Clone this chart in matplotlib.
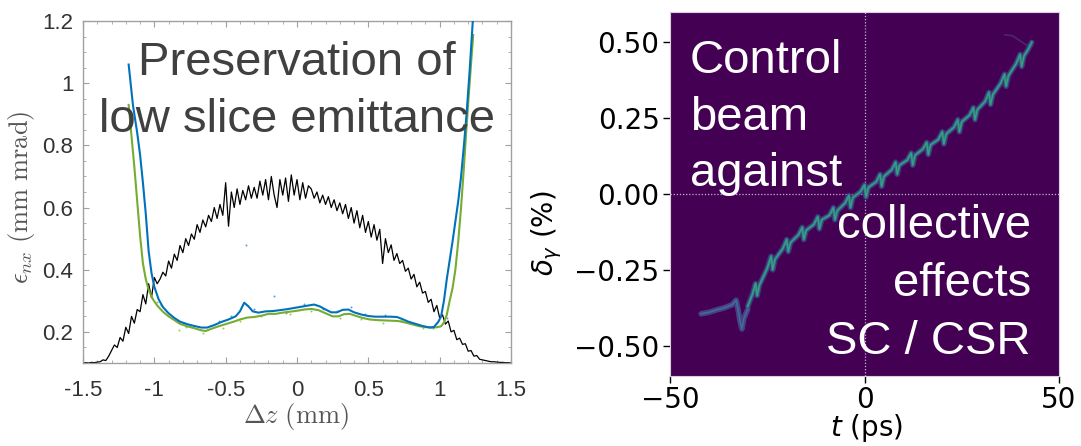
import numpy as np
import matplotlib
matplotlib.use("Agg")
import matplotlib.pyplot as plt
from matplotlib.ticker import MultipleLocator, FuncFormatter

# ---------------- data: left panel ----------------
# current profile (black), sampled every 0.02 mm from -1.5 to 1.5
profile_z_start, profile_z_step = -1.5, 0.02
profile_y = [
    0.100, 0.101, 0.100, 0.102, 0.101, 0.103, 0.104, 0.110, 0.108, 0.122,
    0.140, 0.158, 0.150, 0.182, 0.170, 0.215, 0.195, 0.250, 0.228, 0.272,
    0.265, 0.320, 0.290, 0.355, 0.310, 0.375, 0.355, 0.370, 0.392, 0.380,
    0.428, 0.405, 0.450, 0.430, 0.478, 0.455, 0.500, 0.478, 0.515, 0.498,
    0.545, 0.520, 0.560, 0.538, 0.575, 0.555, 0.600, 0.565, 0.610, 0.575,
    0.680, 0.540, 0.650, 0.600, 0.660, 0.610, 0.655, 0.625, 0.670, 0.630,
    0.665, 0.630, 0.685, 0.640, 0.690, 0.625, 0.700, 0.640, 0.600, 0.690,
    0.640, 0.695, 0.620, 0.705, 0.640, 0.690, 0.625, 0.680, 0.630, 0.670,
    0.660, 0.630, 0.650, 0.615, 0.640, 0.610, 0.635, 0.600, 0.625, 0.590,
    0.615, 0.580, 0.610, 0.565, 0.600, 0.550, 0.590, 0.535, 0.575, 0.520,
    0.555, 0.505, 0.545, 0.495, 0.530, 0.420, 0.500, 0.455, 0.480, 0.430,
    0.452, 0.420, 0.430, 0.395, 0.405, 0.370, 0.385, 0.345, 0.360, 0.325,
    0.330, 0.295, 0.305, 0.265, 0.285, 0.245, 0.255, 0.225, 0.235, 0.200,
    0.205, 0.175, 0.180, 0.160, 0.162, 0.138, 0.140, 0.122, 0.124, 0.112,
    0.110, 0.108, 0.106, 0.104, 0.104, 0.103, 0.102, 0.102, 0.101, 0.101,
    0.100,
]

blue_z = [-1.18, -1.15, -1.12, -1.10, -1.08, -1.06, -1.04, -1.02, -1.00, -0.97,
          -0.94, -0.90, -0.86, -0.82, -0.77, -0.72, -0.67, -0.63, -0.58, -0.53,
          -0.48, -0.43, -0.40, -0.37, -0.34, -0.31, -0.27, -0.22, -0.17, -0.12,
          -0.07, -0.02, 0.03, 0.08, 0.12, 0.16, 0.20, 0.24, 0.28, 0.32,
          0.36, 0.40, 0.45, 0.50, 0.55, 0.60, 0.65, 0.70, 0.74, 0.78,
          0.83, 0.88, 0.93, 0.96, 0.99, 1.01, 1.03, 1.05, 1.07, 1.09,
          1.11, 1.13, 1.15, 1.17, 1.19, 1.21, 1.235]
blue_e = [1.06, 0.93, 0.84, 0.77, 0.68, 0.58, 0.46, 0.39, 0.345, 0.305,
          0.280, 0.260, 0.245, 0.233, 0.225, 0.219, 0.214, 0.214, 0.222, 0.232,
          0.240, 0.250, 0.266, 0.294, 0.282, 0.266, 0.262, 0.266, 0.267, 0.270,
          0.273, 0.277, 0.281, 0.285, 0.288, 0.282, 0.272, 0.263, 0.263, 0.271,
          0.272, 0.263, 0.256, 0.251, 0.249, 0.249, 0.249, 0.248, 0.241, 0.233,
          0.226, 0.219, 0.214, 0.216, 0.232, 0.250, 0.300, 0.370, 0.430, 0.490,
          0.555, 0.620, 0.700, 0.800, 0.910, 1.040, 1.220]

green_z = [-1.18, -1.16, -1.14, -1.12, -1.10, -1.08, -1.06, -1.04, -1.01, -0.98,
           -0.94, -0.90, -0.86, -0.82, -0.77, -0.72, -0.67, -0.64, -0.60, -0.55,
           -0.50, -0.45, -0.40, -0.35, -0.30, -0.25, -0.20, -0.15, -0.10, -0.05,
           0.00, 0.05, 0.10, 0.15, 0.20, 0.25, 0.29, 0.33, 0.37, 0.41,
           0.46, 0.51, 0.56, 0.61, 0.66, 0.71, 0.76, 0.81, 0.86, 0.91,
           0.95, 0.98, 1.01, 1.03, 1.05, 1.07, 1.09, 1.11, 1.13, 1.15,
           1.17, 1.19, 1.21, 1.235]
green_e = [0.93, 0.83, 0.73, 0.62, 0.51, 0.42, 0.37, 0.335, 0.305, 0.285,
           0.265, 0.250, 0.238, 0.226, 0.218, 0.212, 0.205, 0.203, 0.210, 0.218,
           0.225, 0.232, 0.240, 0.246, 0.248, 0.252, 0.258, 0.258, 0.262, 0.265,
           0.268, 0.272, 0.274, 0.270, 0.260, 0.250, 0.250, 0.257, 0.258, 0.252,
           0.245, 0.240, 0.238, 0.237, 0.236, 0.235, 0.230, 0.224, 0.218, 0.215,
           0.214, 0.215, 0.218, 0.230, 0.255, 0.300, 0.340, 0.400, 0.490, 0.600,
           0.730, 0.870, 1.000, 1.155]

blue_dots_z = [-0.95, -0.80, -0.55, -0.46, -0.36, -0.30, -0.16, -0.08, 0.05, 0.18,
               0.28, 0.38, 0.48, 0.62, 0.80, 0.95, 1.05]
blue_dots_e = [0.285, 0.225, 0.235, 0.250, 0.480, 0.275, 0.315, 0.262, 0.290, 0.275,
               0.268, 0.280, 0.258, 0.255, 0.228, 0.212, 0.245]
green_dots_z = [-0.98, -0.83, -0.78, -0.66, -0.52, -0.40, -0.25, -0.05, 0.10, 0.30,
                0.45, 0.60, 0.73, 0.88, 1.02]
green_dots_e = [0.295, 0.205, 0.215, 0.198, 0.212, 0.236, 0.252, 0.258, 0.268, 0.244,
                0.243, 0.230, 0.238, 0.212, 0.230]

# ---------------- data: right panel ----------------
tail_t = [-42, -40, -38, -36, -34, -33, -32.5, -32, -31.5, -31, -30]
tail_d = [-0.395, -0.390, -0.382, -0.375, -0.365, -0.350, -0.380, -0.420, -0.445, -0.410, -0.380]

streak_t = [-30, -28.8, -28, -27.6, -27, -25, -24, -23.6, -23, -21, -20, -19.6, -19,
            -17, -16, -15.6, -15, -13, -12, -11.6, -11, -9, -8, -7.6, -7,
            -5, -4, -3.6, -3, -1, 0, 0.4, 1, 3, 4, 4.4, 5, 7, 8, 8.4, 9,
            11, 12, 12.4, 13, 15, 16, 16.4, 17, 19, 20, 20.4, 21, 23, 24, 24.4, 25,
            27, 28, 28.4, 29, 31, 32, 32.4, 33, 35, 36, 36.4, 37, 39, 40, 40.4, 41,
            42, 43]
streak_d = [-0.370, -0.330, -0.295, -0.335, -0.300, -0.245, -0.205, -0.250, -0.215,
            -0.180, -0.150, -0.190, -0.160, -0.135, -0.110, -0.150, -0.120,
            -0.100, -0.075, -0.115, -0.085, -0.070, -0.045, -0.085, -0.055,
            -0.030, -0.005, -0.045, -0.012, 0.008, 0.030, -0.010, 0.022,
            0.040, 0.065, 0.025, 0.058, 0.080, 0.105, 0.065, 0.095,
            0.112, 0.135, 0.095, 0.128, 0.148, 0.170, 0.130, 0.162,
            0.180, 0.205, 0.165, 0.198, 0.220, 0.245, 0.205, 0.238,
            0.260, 0.285, 0.245, 0.278, 0.305, 0.335, 0.295, 0.328,
            0.365, 0.395, 0.355, 0.390, 0.430, 0.460, 0.420, 0.455,
            0.475, 0.500]

halo_t = [36, 38, 40, 41.5, 43]
halo_d = [0.525, 0.522, 0.505, 0.492, 0.488]

# ---------------- figure ----------------
W, H = 1081, 446
fig = plt.figure(figsize=(W / 100, H / 100), dpi=100)

def fx(px):
    return px / W

def fy(py):
    return 1 - py / H

# left axes
axL = fig.add_axes([fx(83), fy(363), fx(511) - fx(83), fy(21) - fy(363)])
z = profile_z_start + profile_z_step * np.arange(len(profile_y))
axL.plot(z, profile_y, color="black", lw=0.9, zorder=2)
axL.scatter(blue_dots_z, blue_dots_e, s=2, color="#5aa0d8", zorder=3, linewidths=0)
axL.scatter(green_dots_z, green_dots_e, s=2, color="#9cc85a", zorder=3, linewidths=0)
axL.plot(green_z, green_e, color="#77AC30", lw=1.5, zorder=4)
axL.plot(blue_z, blue_e, color="#0072BD", lw=1.5, zorder=5)
axL.set_xlim(-1.5, 1.5)
axL.set_ylim(0.1, 1.2)
axL.xaxis.set_major_locator(MultipleLocator(0.5))
axL.xaxis.set_minor_locator(MultipleLocator(0.1))
axL.yaxis.set_major_locator(MultipleLocator(0.2))
axL.yaxis.set_minor_locator(MultipleLocator(0.05))
fmt = FuncFormatter(lambda v, p: ("%g" % round(v, 2)))
axL.xaxis.set_major_formatter(fmt)
axL.yaxis.set_major_formatter(fmt)
axL.set_yticks([0.2, 0.4, 0.6, 0.8, 1.0, 1.2])
for s in axL.spines.values():
    s.set_color("#a0a0a0")
    s.set_linewidth(1.0)
axL.tick_params(which="both", direction="in", top=True, right=True, color="#a0a0a0")
axL.tick_params(which="major", length=4)
axL.tick_params(which="minor", length=2.5)
axL.tick_params(axis="x", which="major", pad=12, labelsize=16, labelcolor="#333333")
axL.tick_params(axis="y", which="major", pad=7, labelsize=16, labelcolor="#333333")
for lab in axL.get_xticklabels() + axL.get_yticklabels():
    lab.set_fontfamily("Liberation Sans")

fig.text(fx(22), fy(197), r"$\epsilon_{nx}\ (\mathrm{mm\ mrad})$", rotation=90,
         ha="center", va="center", fontsize=19, color="#555555", math_fontfamily="cm")
fig.text(fx(296), fy(417), r"$\Delta z\ (\mathrm{mm})$", ha="center", va="center",
         fontsize=19, color="#555555", math_fontfamily="cm")

fig.text(fx(297), fy(75), "Preservation of", ha="center", va="baseline",
         fontsize=34, color="#404040", family="Liberation Sans")
fig.text(fx(297), fy(132), "low slice emittance", ha="center", va="baseline",
         fontsize=34, color="#404040", family="Liberation Sans")

# right axes
axR = fig.add_axes([fx(670), fy(376), fx(1059) - fx(670), fy(12) - fy(376)])
axR.set_facecolor("#440154")
axR.set_xlim(-50, 50)
axR.set_ylim(-0.6, 0.6)
axR.axvline(0, color="#e8e0f0", lw=0.9, ls=(0, (1, 1.5)), alpha=0.8, zorder=1)
axR.axhline(0, color="#e8e0f0", lw=0.9, ls=(0, (1, 1.5)), alpha=0.8, zorder=1)
axR.plot(halo_t, halo_d, color="#5a4f8f", lw=1.2, alpha=0.45, zorder=2)
axR.plot(tail_t, tail_d, color="#4a5c99", lw=4, alpha=0.7, solid_capstyle="round", zorder=2)
axR.plot(tail_t, tail_d, color="#3d7fa3", lw=1.2, alpha=0.7, zorder=3)
axR.plot(streak_t, streak_d, color="#3e4a89", lw=4, alpha=0.75, solid_capstyle="round", zorder=2)
axR.plot(streak_t, streak_d, color="#2c7f8e", lw=2.0, alpha=0.95, zorder=3)
axR.plot(streak_t, streak_d, color="#4ac16d", lw=0.8, alpha=0.55, zorder=4)
axR.set_xticks([-50, 0, 50])
axR.set_yticks([-0.5, -0.25, 0, 0.25, 0.5])
axR.yaxis.set_major_formatter(FuncFormatter(lambda v, p: ("%.2f" % v).replace("-", "\u2212")))
axR.xaxis.set_major_formatter(FuncFormatter(lambda v, p: ("%d" % v).replace("-", "\u2212")))
axR.tick_params(length=5, width=1, pad=2.5, labelsize=20, colors="black")
for s in axR.spines.values():
    s.set_color("#d8d0e0")
    s.set_linewidth(0.8)

fig.text(fx(547), fy(233), r"$\delta_\gamma$ (%)", rotation=90, ha="center", va="center",
         fontsize=20, color="black", math_fontfamily="dejavusans")
fig.text(fx(866), fy(428), r"$t$ (ps)", ha="center", va="center", fontsize=20,
         color="black", math_fontfamily="dejavusans")

for txt, yb in [("Control", 73), ("beam", 130), ("against", 186)]:
    fig.text(fx(690), fy(yb), txt, ha="left", va="baseline", fontsize=34,
             color="white", family="Liberation Sans")
for txt, yb in [("collective", 238), ("effects", 296), ("SC / CSR", 354)]:
    fig.text(fx(1031), fy(yb), txt, ha="right", va="baseline", fontsize=34,
             color="white", family="Liberation Sans")

fig.savefig("out.png", dpi=100)
